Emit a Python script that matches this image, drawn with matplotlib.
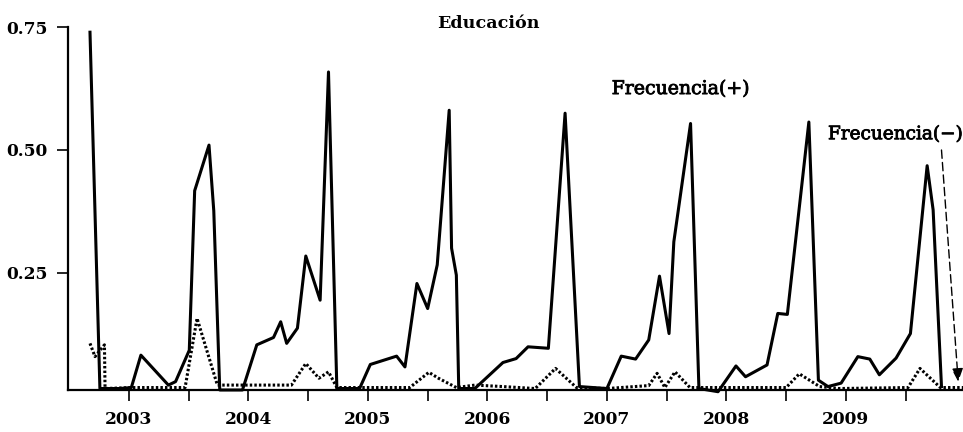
import matplotlib
matplotlib.use("Agg")
import matplotlib.pyplot as plt
import matplotlib.patheffects as pe

###############################################################################

plt.rcParams.update({
    "font.family": "serif",
    "font.serif": ["DejaVu Serif"],
    "font.weight": "bold",
})

BLACK = "#000000"

###############################################################################

# decimal years
t_pos = [2002.674, 2002.757, 2002.84, 2002.92, 2003.02, 2003.10, 2003.33,
         2003.39, 2003.505, 2003.55, 2003.67, 2003.71, 2003.76, 2003.95,
         2004.07, 2004.21, 2004.27, 2004.32, 2004.41, 2004.48, 2004.60,
         2004.67, 2004.74, 2004.93, 2005.02, 2005.24, 2005.31, 2005.41,
         2005.50, 2005.58, 2005.68, 2005.70, 2005.74, 2005.76, 2005.895,
         2006.13, 2006.24, 2006.34, 2006.51, 2006.65, 2006.77, 2007.0,
         2007.12, 2007.24, 2007.35, 2007.44, 2007.52, 2007.56, 2007.70,
         2007.77, 2007.93, 2008.08, 2008.16, 2008.34, 2008.43, 2008.51,
         2008.69, 2008.77, 2008.85, 2008.96, 2009.10, 2009.20, 2009.28,
         2009.42, 2009.54, 2009.68, 2009.73, 2009.80]
freq_pos = [0.74, 0.014, 0.014, 0.014, 0.016, 0.082, 0.021,
            0.028, 0.092, 0.417, 0.51, 0.376, 0.011, 0.011,
            0.103, 0.118, 0.15, 0.106, 0.137, 0.284, 0.194,
            0.659, 0.014, 0.014, 0.063, 0.080, 0.058, 0.228,
            0.177, 0.266, 0.581, 0.30, 0.245, 0.014, 0.014,
            0.067, 0.075, 0.099, 0.096, 0.575, 0.018, 0.014,
            0.080, 0.074, 0.113, 0.243, 0.126, 0.313, 0.554,
            0.014, 0.0075, 0.060, 0.038, 0.062, 0.167, 0.165,
            0.557, 0.031, 0.018, 0.025, 0.079, 0.074, 0.042,
            0.076, 0.126, 0.468, 0.378, 0.018]

t_neg = [2002.674, 2002.716, 2002.795, 2002.80, 2003.02, 2003.47, 2003.57,
         2003.74, 2004.36, 2004.48, 2004.59, 2004.67, 2004.74, 2005.35,
         2005.51, 2005.59, 2005.74, 2005.895, 2006.13, 2006.40, 2006.57,
         2006.745, 2007.0, 2007.35, 2007.42, 2007.485, 2007.57, 2007.695,
         2008.50, 2008.61, 2008.78, 2008.94, 2009.52, 2009.62, 2009.79,
         2009.98]
freq_neg = [0.106, 0.079, 0.103, 0.014, 0.016, 0.016, 0.157,
            0.021, 0.021, 0.065, 0.035, 0.048, 0.016, 0.016,
            0.047, 0.035, 0.016, 0.021, 0.018, 0.014, 0.055,
            0.016, 0.014, 0.020, 0.045, 0.016, 0.048, 0.016,
            0.016, 0.044, 0.018, 0.014, 0.016, 0.055, 0.016,
            0.016]

years = [2003, 2004, 2005, 2006, 2007, 2008, 2009]
y_ticks = [0.25, 0.50, 0.75]

###############################################################################

fig = plt.figure(figsize=(9.63, 4.32), dpi=100)
ax = fig.add_axes([68/963, 1-390/432, 1-68/963, (390-27.3)/432])

ax.plot(t_pos, freq_pos, color=BLACK, linewidth=2.2, clip_on=False)
ax.plot(t_neg, freq_neg, color=BLACK, linewidth=2.2,
        linestyle=(0, (0.8, 0.7)), clip_on=False)

ax.set_xlim(2002.49, 2009.98)
ax.set_ylim(0.011, 0.75)

ax.set_xticks(years, [str(y) for y in years])
ax.set_xticks([y + 0.5 for y in years], minor=True)
ax.set_yticks(y_ticks, ["%.2f" % v for v in y_ticks])

ax.spines.right.set_visible(False)
ax.spines.top.set_visible(False)
ax.spines.left.set_linewidth(1.6)
ax.spines.bottom.set_linewidth(1.6)
ax.tick_params(which="both", length=8, width=1.2, labelsize=12.3)
ax.tick_params(axis="x", pad=7)
ax.tick_params(axis="y", pad=7)

medium = [pe.withStroke(linewidth=0.6, foreground=BLACK)]
ax.text(2007.04, 0.614, "Frecuencia(+)", fontsize=13.6, fontweight="normal",
        va="baseline", ha="left", path_effects=medium)
ax.text(2008.85, 0.522, "Frecuencia(\u2212)", fontsize=13.3,
        fontweight="normal", va="baseline", ha="left", clip_on=False,
        path_effects=medium)
ax.annotate("", xy=(2009.94, 0.028), xytext=(2009.80, 0.50),
            arrowprops=dict(arrowstyle="-|>,head_length=0.8,head_width=0.35",
                            linestyle=(0, (6, 3)), linewidth=1.0,
                            color=BLACK, shrinkA=0, shrinkB=0),
            annotation_clip=False)

fig.text(488.8/963, 1-28/432, "Educación", fontsize=12.6, fontweight="bold",
         ha="center", va="baseline")

fig.savefig("out.png", dpi=100)
